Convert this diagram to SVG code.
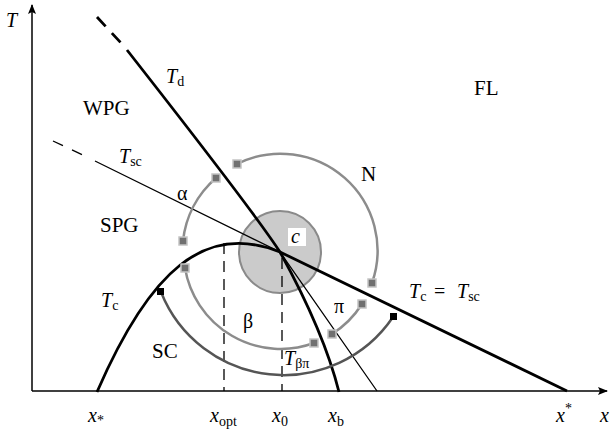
<svg xmlns="http://www.w3.org/2000/svg" width="610" height="432" viewBox="0 0 610 432">
<style>
text{font-family:"Liberation Serif","Times New Roman",serif;fill:#000}
.it{font-style:italic}
.lbl{font-size:21px}
.sym{font-size:20px}
.sub{font-size:14px;font-style:normal}
.thick{fill:none;stroke:#000;stroke-width:2.8}
.thin{fill:none;stroke:#000;stroke-width:1.3}
.gr{fill:none;stroke:#8c8c8c;stroke-width:2.5}
.dk{fill:none;stroke:#555;stroke-width:2.5}
.gsq{fill:#707070;stroke:#c4c4c4;stroke-width:1.5}
.bsq{fill:#000}
.dash{fill:none;stroke:#000;stroke-width:1.3;stroke-dasharray:11,7}
</style>
<defs>
<marker id="arr" viewBox="0 0 10 10" refX="9" refY="5" markerWidth="10" markerHeight="10" markerUnits="userSpaceOnUse" orient="auto">
<path d="M0,1 L10,5 L0,9 L2,5 Z" fill="#000"/>
</marker>
</defs>
<rect width="610" height="432" fill="#fff"/>

<g id="axes">
<line x1="32" y1="391" x2="32" y2="5" stroke="#000" stroke-width="1.5" marker-end="url(#arr)"/>
<line x1="32" y1="391" x2="607" y2="391" stroke="#000" stroke-width="1.5" marker-end="url(#arr)"/>
<text class="it sym" x="6" y="27">T</text>
<text class="it sym" x="600" y="422">x</text>
</g>

<g id="critical-region">
<circle cx="280" cy="252" r="41" fill="#cbcbcb" stroke="#8a8a8a" stroke-width="2"/>
<rect x="288" y="228" width="18" height="18" fill="#fff"/>
<text class="it sym" x="291" y="243">c</text>
</g>

<g id="connectors">
<line class="dash" x1="224" y1="243" x2="224" y2="391"/>
<line class="dash" x1="282" y1="258" x2="282" y2="391"/>
<path class="thick" d="M97,17 L121,43" stroke-dasharray="12.7,9.2"/>
<path class="thick" d="M127,50 Q254,212 280,252 Q324,332 339,392"/>
<path class="thin" d="M53,141 L87,157" stroke-dasharray="11,10"/>
<path class="thin" d="M95,161 L280,252 L377,391"/>
<path class="thick" d="M97,392 C150,270 205,222 280,252"/>
<path class="thick" d="M280,252 L567,391"/>
</g>

<g id="trajectory-N">
<path class="gr" d="M237,164 A97,97 0 0 1 372,283"/>
<rect class="gsq" x="233" y="160" width="8" height="8"/>
<rect class="gsq" x="368" y="279" width="8" height="8"/>
<text class="lbl" x="361" y="181">N</text>
</g>

<g id="trajectory-alpha">
<path class="gr" d="M216,178 A97,97 0 0 0 183,241"/>
<rect class="gsq" x="212" y="174" width="8" height="8"/>
<rect class="gsq" x="179" y="237" width="8" height="8"/>
<text class="sym" x="177" y="200">α</text>
</g>

<g id="trajectory-beta">
<path class="gr" d="M185,268 A97,97 0 0 0 314,343"/>
<rect class="gsq" x="181" y="264" width="8" height="8"/>
<rect class="gsq" x="310" y="339" width="8" height="8"/>
<text class="sym" x="243" y="328">β</text>
</g>

<g id="trajectory-pi">
<path class="gr" d="M332,334 A97,97 0 0 0 362,304"/>
<rect class="gsq" x="328" y="330" width="8" height="8"/>
<rect class="gsq" x="358" y="300" width="8" height="8"/>
<text class="sym" x="334" y="313">π</text>
</g>

<g id="trajectory-Tbp">
<path class="dk" d="M161,292 A132,132 0 0 0 393,317"/>
<rect class="bsq" x="157" y="288" width="7" height="7"/>
<rect class="bsq" x="390" y="313" width="7" height="7"/>
<text class="it sym" x="284" y="365">T<tspan class="sub" dy="3">βπ</tspan></text>
</g>

<g id="labels">
<text class="it sym" x="166" y="83">T<tspan class="sub" dy="3">d</tspan></text>
<text class="lbl" x="83" y="115">WPG</text>
<text class="lbl" x="474" y="95">FL</text>
<text class="it sym" x="119" y="163">T<tspan class="sub" dy="3">sc</tspan></text>
<text class="lbl" x="100" y="232">SPG</text>
<text class="it sym" x="101" y="307">T<tspan class="sub" dy="3">c</tspan></text>
<text class="lbl" x="152" y="358">SC</text>
<text class="it sym" x="409" y="298">T<tspan class="sub" dy="3">c</tspan><tspan x="434" dy="-3" font-style="normal">=</tspan><tspan x="457">T</tspan><tspan class="sub" dy="3">sc</tspan></text>
<text class="it sym" x="88" y="422">x<tspan font-size="14" font-style="normal" dy="3">*</tspan></text>
<text class="it sym" x="210" y="422">x<tspan class="sub" dy="4">opt</tspan></text>
<text class="it sym" x="272" y="422">x<tspan class="sub" dy="4">0</tspan></text>
<text class="it sym" x="328" y="422">x<tspan class="sub" dy="4">b</tspan></text>
<text class="it sym" x="556" y="422">x<tspan font-size="14" font-style="normal" dy="-9">*</tspan></text>
</g>
</svg>
